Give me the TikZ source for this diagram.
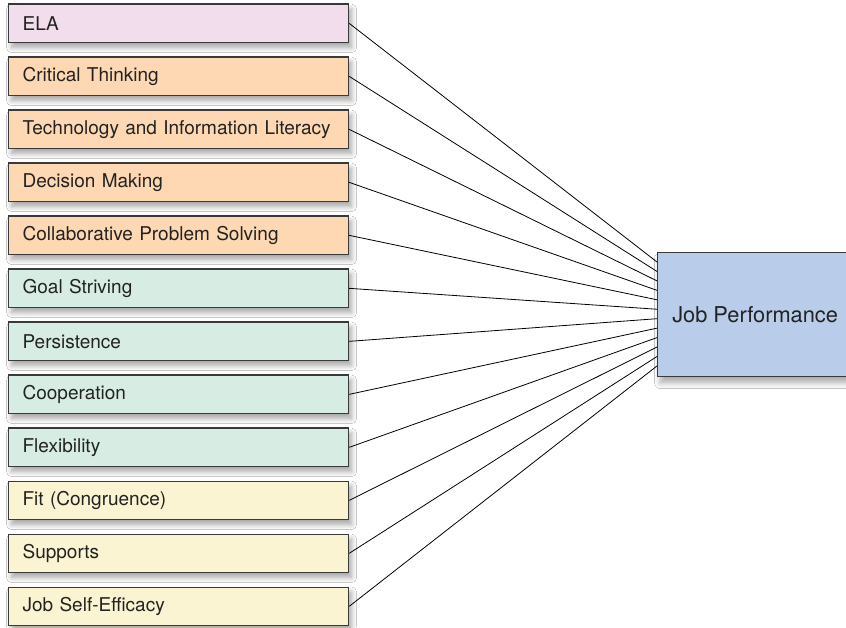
\documentclass[tikz,border=0pt]{standalone}
\usepackage{fontspec}
\setmainfont{TeX Gyre Heros}
\usetikzlibrary{shadows.blur,calc}
\definecolor{cpink}{HTML}{F2DDEC}
\definecolor{corange}{HTML}{FDD8B2}
\definecolor{cgreen}{HTML}{D7EDE3}
\definecolor{cyellow}{HTML}{FAF4D3}
\definecolor{cblue}{HTML}{B9CDEB}
\definecolor{cborder}{HTML}{3A3A3A}
\definecolor{ctext}{HTML}{222222}
\begin{document}
\begin{tikzpicture}[x=1pt,y=1pt,
  factor/.style={draw=cborder, line width=1.2pt, minimum width=340pt, minimum height=38.5pt,
    inner sep=0pt, text width=312pt, align=left, anchor=north west,
    font=\fontsize{19}{22}\selectfont, text=ctext,
    blur shadow={shadow xshift=3pt, shadow yshift=-5pt, shadow blur steps=10, shadow blur radius=5pt, shadow opacity=35}},
  target/.style={draw=cborder, line width=1.2pt, minimum width=195pt, minimum height=124pt,
    inner sep=0pt, anchor=north west, font=\fontsize{21.8}{25}\selectfont, text=ctext,
    blur shadow={shadow xshift=3pt, shadow yshift=-6pt, shadow blur steps=10, shadow blur radius=6pt, shadow opacity=35}},
  link/.style={draw=black, line width=0.8pt}]
\useasboundingbox (0,0) rectangle (846,627);
\fill[white] (0,0) rectangle (846,627);
\node[target, fill=cblue] (jp) at (657,{627-252}) {Job Performance};
\foreach \lbl/\col [count=\i from 0] in {ELA/cpink, Critical Thinking/corange,
  Technology and Information Literacy/corange, Decision Making/corange,
  Collaborative Problem Solving/corange, Goal Striving/cgreen, Persistence/cgreen,
  Cooperation/cgreen, Flexibility/cgreen, Fit (Congruence)/cyellow, Supports/cyellow,
  Job Self-Efficacy/cyellow}{
  \node[factor, fill=\col] (b\i) at (8,{627-3.5-53*\i}) {\lbl};
  \coordinate (e\i) at (657,{627-262-9.45*\i});
}
\foreach \i in {0,...,11}{
  \draw[link] (b\i.east) -- (e\i);
}
\end{tikzpicture}
\end{document}
